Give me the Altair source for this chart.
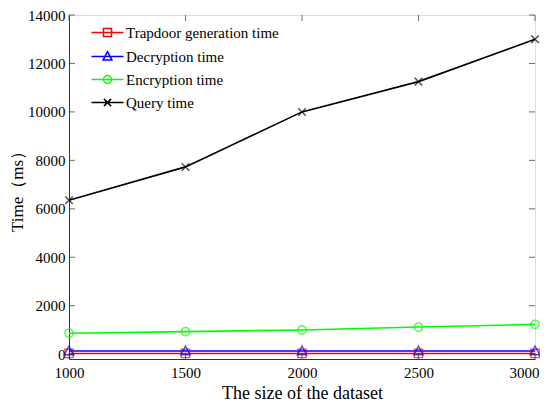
import altair as alt
import pandas as pd

sizes = [1000, 1500, 2000, 2500, 3000]
trapdoor = [30, 30, 30, 30, 30]
decryption = [130, 130, 130, 130, 130]
encryption = [860, 930, 1000, 1120, 1230]
query = [6350, 7730, 10000, 11250, 13000]

series_names = ["Trapdoor generation time", "Decryption time", "Encryption time", "Query time"]
series_colors = ["#FF0000", "#0000FF", "#00FF00", "#000000"]
x_ticks = [1000, 1500, 2000, 2500, 3000]
y_ticks = [0, 2000, 4000, 6000, 8000, 10000, 12000, 14000]

marker_paths = [
    "M-1,-1H1V1H-1Z",
    "M0,-1.2L1.1,0.9H-1.1Z",
    "M1,0A1,1 0 1,1 -1,0A1,1 0 1,1 1,0Z",
    "M-0.9,-0.9L0.9,0.9M-0.9,0.9L0.9,-0.9",
]
legend_paths = ["M-4,0H4" + p for p in marker_paths]

rows = []
for name, vals in zip(series_names, [trapdoor, decryption, encryption, query]):
    for s, v in zip(sizes, vals):
        rows.append({"size": s, "value": v, "series": name})
df = pd.DataFrame(rows)

FONT = "Liberation Serif"
xs = alt.Scale(domain=[1000, 3000], nice=False, zero=False)
ys = alt.Scale(domain=[-200, 14000], nice=False, zero=False)

last_x = "datum.value === 3000"
x_enc = alt.X("size:Q", scale=xs,
              axis=alt.Axis(values=x_ticks, format="d", title="The size of the dataset",
                            tickSize=0, labelPadding=6, titlePadding=4,
                            labelAlign={"condition": {"test": last_x, "value": "right"}, "value": "center"},
                            labelOffset={"condition": {"test": last_x, "value": 4}, "value": 0},
                            labelFontSize=15, titleFontSize=18, labelFont=FONT, titleFont=FONT,
                            titleFontWeight="normal", labelColor="black", titleColor="black",
                            domainColor="#333", grid=False, labelFlush=False))
y_enc = alt.Y("value:Q", scale=ys,
              axis=alt.Axis(values=y_ticks, format="d", title="Time（ms）",
                            tickSize=0, labelPadding=4, titlePadding=1,
                            labelFontSize=15, titleFontSize=17, labelFont=FONT, titleFont=FONT,
                            titleFontWeight="normal", labelColor="black", titleColor="black",
                            domainColor="#333", grid=False, labelFlush=False))

color_scale = alt.Scale(domain=series_names, range=series_colors)

lines = alt.Chart(df).mark_line(strokeWidth=1.6).encode(
    x=x_enc, y=y_enc,
    color=alt.Color("series:N", scale=color_scale, legend=None),
    detail="series:N",
)
points = alt.Chart(df).mark_point(size=70, strokeWidth=1.4, filled=False).encode(
    x="size:Q", y="value:Q",
    color=alt.Color("series:N", scale=color_scale, legend=None),
    shape=alt.Shape("series:N", scale=alt.Scale(domain=series_names, range=marker_paths), legend=None),
)
leg = alt.Legend(title=None, orient="none", legendX=31, legendY=10,
                 padding=0, labelFont=FONT, labelFontSize=15,
                 labelColor="black", labelOffset=11, rowPadding=7,
                 symbolSize=64, symbolStrokeWidth=1.5, symbolOpacity=1,
                 symbolFillColor="transparent", labelLimit=300)
legend_layer = alt.Chart(df).mark_point(size=64, strokeWidth=1.3, filled=False, opacity=0).encode(
    x="size:Q", y="value:Q",
    color=alt.Color("series:N", scale=color_scale, legend=leg),
    shape=alt.Shape("series:N", scale=alt.Scale(domain=series_names, range=legend_paths), legend=leg),
)

# inward tick marks (MATLAB box style)
ytick_df = pd.DataFrame({"value": y_ticks})
xtick_df = pd.DataFrame({"size": x_ticks})
yt_left = alt.Chart(ytick_df).mark_tick(orient="horizontal", size=6, thickness=1, color="#333", xOffset=3).encode(
    y="value:Q", x=alt.datum(1000))
yt_right = alt.Chart(ytick_df).mark_tick(orient="horizontal", size=6, thickness=1, color="#333", xOffset=-3).encode(
    y="value:Q", x=alt.datum(3000))
xt_bottom = alt.Chart(xtick_df).mark_tick(orient="vertical", size=6, thickness=1, color="#333", yOffset=-3).encode(
    x="size:Q", y=alt.datum(-200))
xt_top = alt.Chart(xtick_df).mark_tick(orient="vertical", size=6, thickness=1, color="#333", yOffset=3).encode(
    x="size:Q", y=alt.datum(14000))

chart = alt.layer(lines, points, legend_layer, yt_left, yt_right, xt_bottom, xt_top).resolve_scale(
    shape="independent", color="independent"
).properties(
    width=466, height=344,
    autosize=alt.AutoSizeParams(type="none"),
    padding={"left": 61, "top": 7, "right": 5, "bottom": 42},
).configure_view(stroke="#333", strokeWidth=1).configure(
    background="white", font=FONT
).configure_legend(labelFont=FONT, labelFontSize=15)

chart.save("out.html", embed_options={"renderer": "svg", "actions": False})
